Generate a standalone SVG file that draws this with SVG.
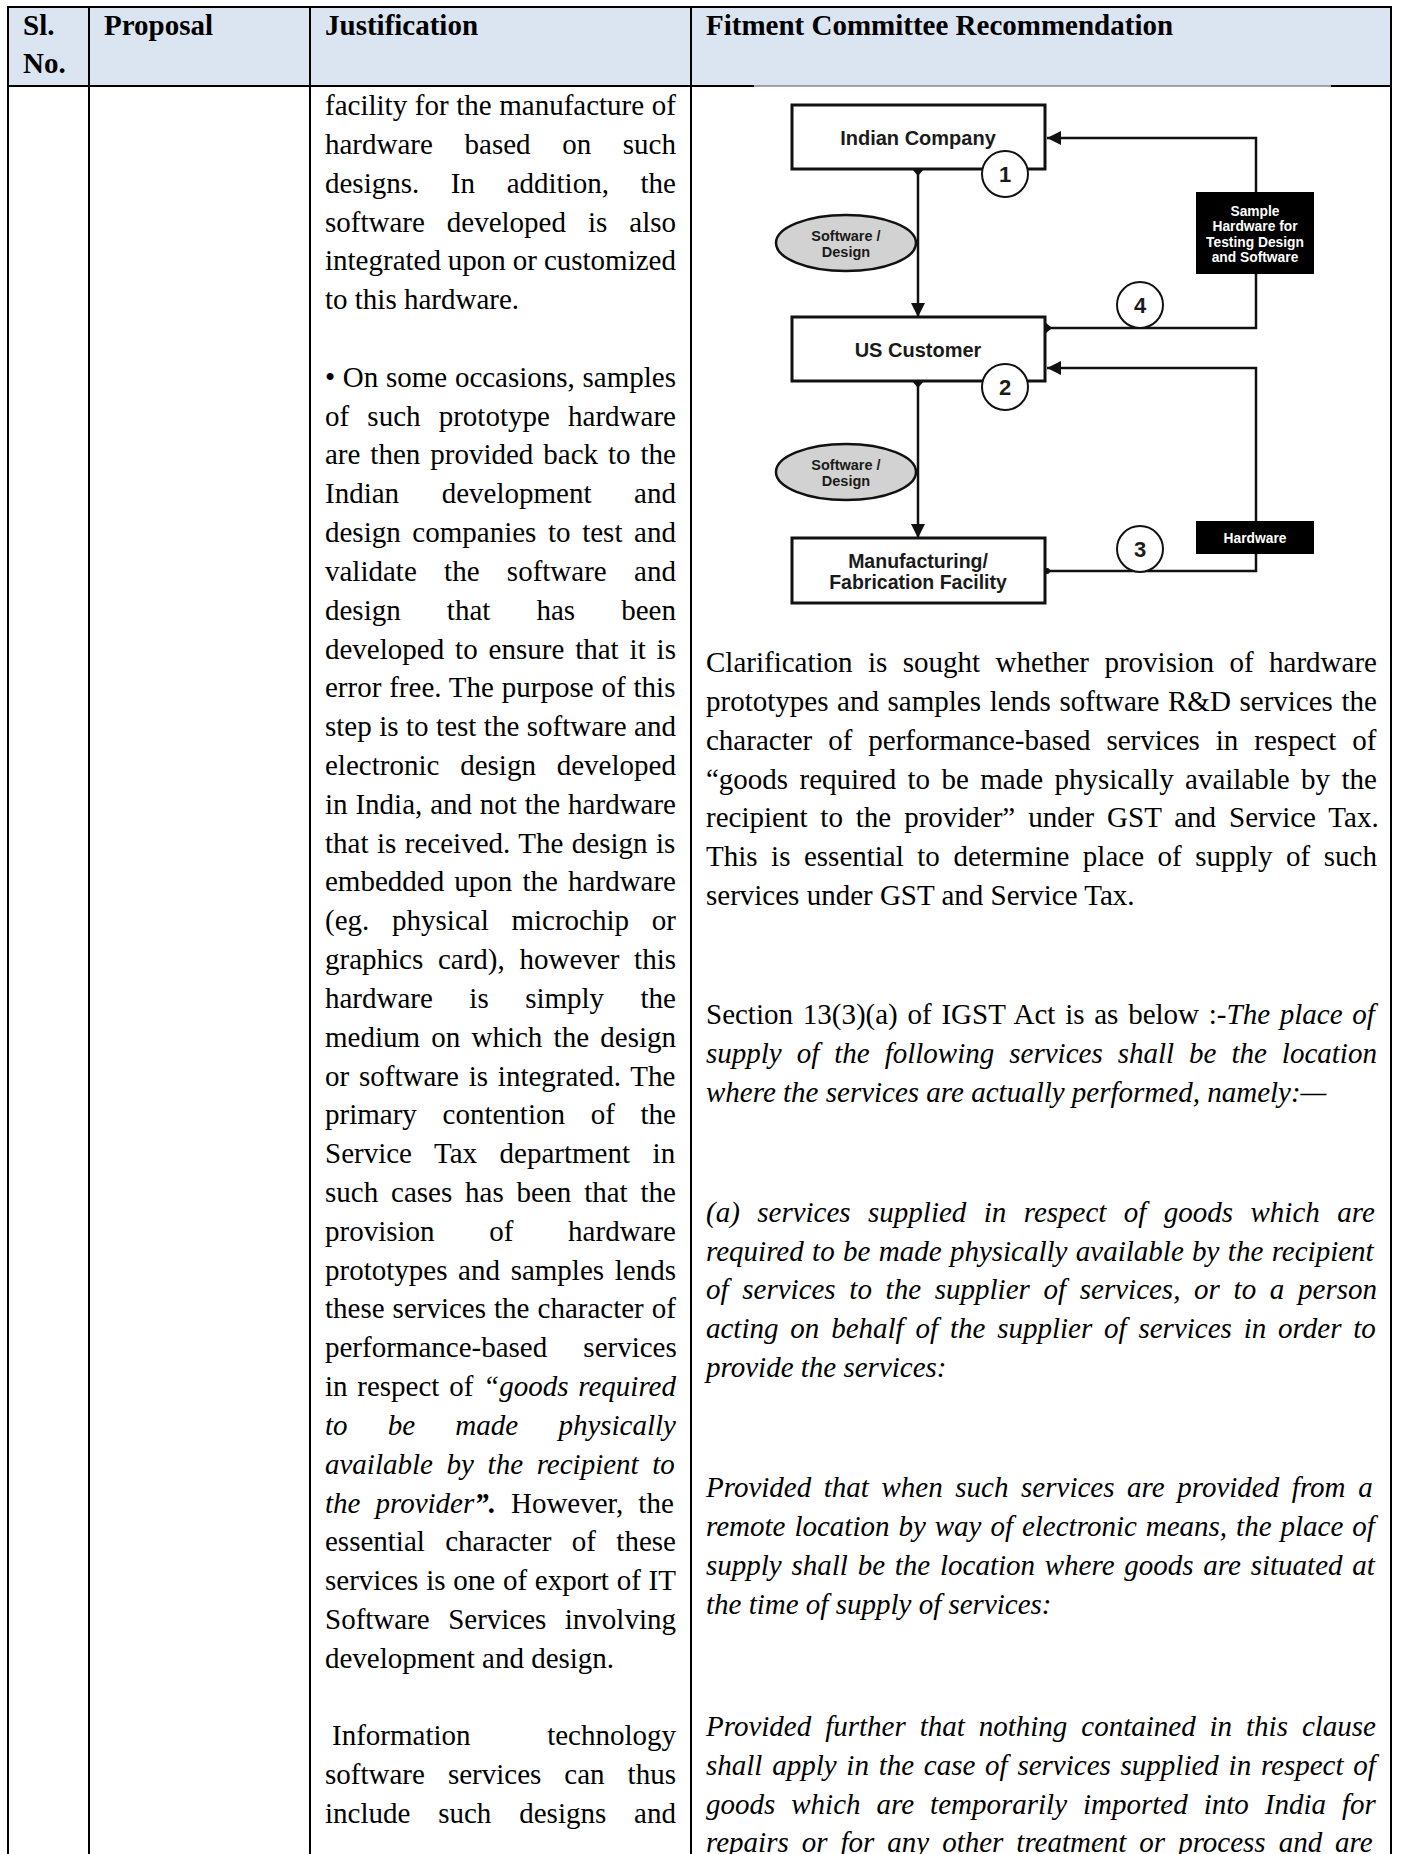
<svg xmlns="http://www.w3.org/2000/svg" width="1402" height="1854" viewBox="0 0 1402 1854">
<style>
.t{font-family:"Liberation Serif","Times New Roman",serif;font-size:29px;fill:#000}
.h{font-family:"Liberation Serif","Times New Roman",serif;font-size:29px;font-weight:bold;fill:#000}
.i{font-style:italic}
.grid{stroke:#000;stroke-width:2;fill:none}
.box{fill:#fff;stroke:#111;stroke-width:3}
.blk{fill:#000;stroke:none}
.ell{fill:#d2d2d2;stroke:#111;stroke-width:2.5}
.num{fill:#fff;stroke:#111;stroke-width:2}
.ln{stroke:#111;stroke-width:2.5;fill:none}
.dl{font-family:"Liberation Sans",Arial,sans-serif;font-weight:bold;fill:#1a1a1a;text-anchor:middle}
.wl{font-family:"Liberation Sans",Arial,sans-serif;font-weight:bold;fill:#fff;text-anchor:middle;font-size:13.8px}
</style>
<defs>
<marker id="arr" viewBox="0 0 14 14" refX="14" refY="7" markerWidth="14" markerHeight="14" orient="auto" markerUnits="userSpaceOnUse"><path d="M0,0 L14,7 L0,14 z" fill="#111"/></marker>
</defs>
<rect x="0" y="0" width="1402" height="1854" fill="#fff"/>
<g id="table">
<rect x="8" y="7" width="1383" height="79" fill="#dbe5f1"/>
<line class="grid" x1="7" y1="7" x2="1392" y2="7"/>
<line class="grid" x1="7" y1="86" x2="754" y2="86"/>
<line x1="754" y1="86" x2="1331" y2="86" stroke="#555" stroke-width="1"/>
<line class="grid" x1="1331" y1="86" x2="1392" y2="86"/>
<line class="grid" x1="8" y1="6" x2="8" y2="1854"/>
<line class="grid" x1="89" y1="6" x2="89" y2="1854"/>
<line class="grid" x1="310" y1="6" x2="310" y2="1854"/>
<line class="grid" x1="691" y1="6" x2="691" y2="1854"/>
<line class="grid" x1="1391" y1="6" x2="1391" y2="1854"/>
<text class="h" x="23" y="35">Sl.</text>
<text class="h" x="23" y="73">No.</text>
<text class="h" x="104" y="35">Proposal</text>
<text class="h" x="325" y="35">Justification</text>
<text class="h" x="706" y="35">Fitment Committee Recommendation</text>
</g>
<g id="justification">
<text class="t" x="325" y="115.0" style="word-spacing:0.37px">facility for the manufacture of</text>
<text class="t" x="325" y="153.8" style="word-spacing:24.39px">hardware based on such</text>
<text class="t" x="325" y="192.6" style="word-spacing:24.36px">designs. In addition, the</text>
<text class="t" x="325" y="231.5" style="word-spacing:14.72px">software developed is also</text>
<text class="t" x="325" y="270.3" style="word-spacing:-0.32px">integrated upon or customized</text>
<text class="t" x="325" y="309.1">to this hardware.</text>
<text class="t" x="325" y="386.7" style="word-spacing:0.44px">• On some occasions, samples</text>
<text class="t" x="325" y="425.6" style="word-spacing:10.95px">of such prototype hardware</text>
<text class="t" x="325" y="464.4" style="word-spacing:2.71px">are then provided back to the</text>
<text class="t" x="325" y="503.2" style="word-spacing:35.35px">Indian development and</text>
<text class="t" x="325" y="542.0" style="word-spacing:4.38px">design companies to test and</text>
<text class="t" x="325" y="580.8" style="word-spacing:20.08px">validate the software and</text>
<text class="t" x="325" y="619.7" style="word-spacing:38.88px">design that has been</text>
<text class="t" x="325" y="658.5" style="word-spacing:3.67px">developed to ensure that it is</text>
<text class="t" x="325" y="697.3" style="word-spacing:0.62px">error free. The purpose of this</text>
<text class="t" x="325" y="736.1" style="word-spacing:0.24px">step is to test the software and</text>
<text class="t" x="325" y="774.9" style="word-spacing:13.61px">electronic design developed</text>
<text class="t" x="325" y="813.8" style="word-spacing:0.62px">in India, and not the hardware</text>
<text class="t" x="325" y="852.6" style="word-spacing:1.25px">that is received. The design is</text>
<text class="t" x="325" y="891.4" style="word-spacing:2.92px">embedded upon the hardware</text>
<text class="t" x="325" y="930.2" style="word-spacing:15.52px">(eg. physical microchip or</text>
<text class="t" x="325" y="969.0" style="word-spacing:7.48px">graphics card), however this</text>
<text class="t" x="325" y="1007.9" style="word-spacing:29.21px">hardware is simply the</text>
<text class="t" x="325" y="1046.7" style="word-spacing:3.98px">medium on which the design</text>
<text class="t" x="325" y="1085.5" style="word-spacing:2.58px">or software is integrated. The</text>
<text class="t" x="325" y="1124.3" style="word-spacing:18.47px">primary contention of the</text>
<text class="t" x="325" y="1163.1" style="word-spacing:15.3px">Service Tax department in</text>
<text class="t" x="325" y="1202.0" style="word-spacing:5.61px">such cases has been that the</text>
<text class="t" x="325" y="1240.8" style="word-spacing:47.45px">provision of hardware</text>
<text class="t" x="325" y="1279.6" style="word-spacing:3.42px">prototypes and samples lends</text>
<text class="t" x="325" y="1318.4" style="word-spacing:0.78px">these services the character of</text>
<text class="t" x="325" y="1357.2" style="word-spacing:28.9px">performance-based services</text>
<text class="t" x="325" y="1396.1" style="word-spacing:2.5px">in respect of <tspan class="i">“goods required</tspan></text>
<text class="t i" x="325" y="1434.9" style="word-spacing:32.97px">to be made physically</text>
<text class="t i" x="325" y="1473.7" style="word-spacing:6.4px">available by the recipient to</text>
<text class="t" x="325" y="1512.5" style="word-spacing:7.75px"><tspan class="i">the provider</tspan><tspan class="i" font-weight="bold">”.</tspan> However, the</text>
<text class="t" x="325" y="1551.3" style="word-spacing:13.12px">essential character of these</text>
<text class="t" x="325" y="1590.2" style="word-spacing:0.51px">services is one of export of IT</text>
<text class="t" x="325" y="1629.0" style="word-spacing:11.19px">Software Services involving</text>
<text class="t" x="325" y="1667.8">development and design.</text>
<text class="t" x="332" y="1745.4">Information</text>
<text class="t" x="676" y="1745.4" text-anchor="end">technology</text>
<text class="t" x="325" y="1784.3" style="word-spacing:15.79px">software services can thus</text>
<text class="t" x="325" y="1823.1" style="word-spacing:20.61px">include such designs and</text>
</g>
<g id="recommendation">
<text class="t" x="706" y="672.0" style="word-spacing:8.2px">Clarification is sought whether provision of hardware</text>
<text class="t" x="706" y="710.8" style="word-spacing:1.39px">prototypes and samples lends software R&amp;D services the</text>
<text class="t" x="706" y="749.6" style="word-spacing:8.7px">character of performance-based services in respect of</text>
<text class="t" x="706" y="788.5" style="word-spacing:4.14px">“goods required to be made physically available by the</text>
<text class="t" x="706" y="827.3" style="word-spacing:5.65px">recipient to the provider” under GST and Service Tax.</text>
<text class="t" x="706" y="866.1" style="word-spacing:6.27px">This is essential to determine place of supply of such</text>
<text class="t" x="706" y="904.9">services under GST and Service Tax.</text>
<text class="t" x="706" y="1024.2" style="word-spacing:2.51px">Section 13(3)(a) of IGST Act is as below :-<tspan class="i">The place of</tspan></text>
<text class="t i" x="706" y="1063.0" style="word-spacing:7.75px">supply of the following services shall be the location</text>
<text class="t i" x="706" y="1101.9">where the services are actually performed, namely:—</text>
<text class="t i" x="706" y="1221.7" style="word-spacing:10.17px">(a) services supplied in respect of goods which are</text>
<text class="t i" x="706" y="1260.5" style="word-spacing:1.11px">required to be made physically available by the recipient</text>
<text class="t i" x="706" y="1299.3" style="word-spacing:6.45px">of services to the supplier of services, or to a person</text>
<text class="t i" x="706" y="1338.1" style="word-spacing:4.59px">acting on behalf of the supplier of services in order to</text>
<text class="t i" x="706" y="1377.0">provide the services:</text>
<text class="t i" x="706" y="1497.0" style="word-spacing:5.34px">Provided that when such services are provided from a</text>
<text class="t i" x="706" y="1535.9" style="word-spacing:1.71px">remote location by way of electronic means, the place of</text>
<text class="t i" x="706" y="1574.7" style="word-spacing:2.51px">supply shall be the location where goods are situated at</text>
<text class="t i" x="706" y="1613.5">the time of supply of services:</text>
<text class="t i" x="706" y="1736.0" style="word-spacing:6.69px">Provided further that nothing contained in this clause</text>
<text class="t i" x="706" y="1774.8" style="word-spacing:2.5px">shall apply in the case of services supplied in respect of</text>
<text class="t i" x="706" y="1813.6" style="word-spacing:8.74px">goods which are temporarily imported into India for</text>
<text class="t i" x="706" y="1851.5" style="word-spacing:5.73px">repairs or for any other treatment or process and are</text>
</g>
<g id="connectors">
<line class="ln" x1="918" y1="169" x2="918" y2="317" marker-end="url(#arr)"/>
<line class="ln" x1="918" y1="381" x2="918" y2="538" marker-end="url(#arr)"/>
<path class="ln" d="M1256,192 V138 H1047" marker-end="url(#arr)"/>
<path class="ln" d="M1256,274 V328 H1046"/>
<path class="ln" d="M1256,521 V368 H1047" marker-end="url(#arr)"/>
<path class="ln" d="M1256,554 V571 H1046"/>
<polygon points="912,169 924,169 918,176" fill="#111"/>
<polygon points="912,381 924,381 918,388" fill="#111"/>
<polygon points="1045,322 1045,334 1052,328" fill="#111"/>
<circle cx="1047" cy="571" r="3" fill="#111"/>
</g>
<g id="node-indian-company">
<rect class="box" x="792" y="105" width="253" height="64"/>
<text class="dl" x="918" y="145" font-size="20">Indian Company</text>
</g>
<g id="node-us-customer">
<rect class="box" x="792" y="317" width="253" height="64"/>
<text class="dl" x="918" y="357" font-size="20">US Customer</text>
</g>
<g id="node-manufacturing">
<rect class="box" x="792" y="538" width="253" height="65"/>
<text class="dl" x="918" y="568" font-size="19.5">Manufacturing/</text>
<text class="dl" x="918" y="588.5" font-size="19.5">Fabrication Facility</text>
</g>
<g id="node-software-design-1">
<ellipse class="ell" cx="846" cy="243" rx="70" ry="28"/>
<text class="dl" x="846" y="241" font-size="14.5" fill="#333">Software /</text>
<text class="dl" x="846" y="257" font-size="14.5" fill="#333">Design</text>
</g>
<g id="node-software-design-2">
<ellipse class="ell" cx="846" cy="472" rx="70" ry="28"/>
<text class="dl" x="846" y="470" font-size="14.5" fill="#333">Software /</text>
<text class="dl" x="846" y="486" font-size="14.5" fill="#333">Design</text>
</g>
<g id="node-sample-hardware">
<rect class="blk" x="1196" y="192" width="118" height="82"/>
<text class="wl" x="1255" y="215.5">Sample</text>
<text class="wl" x="1255" y="231">Hardware for</text>
<text class="wl" x="1255" y="246.5">Testing Design</text>
<text class="wl" x="1255" y="262">and Software</text>
</g>
<g id="node-hardware">
<rect class="blk" x="1196" y="521" width="118" height="33"/>
<text class="wl" x="1255" y="542.5" font-size="14">Hardware</text>
</g>
<g id="node-step-1">
<circle class="num" cx="1005" cy="174" r="23"/>
<text class="dl" x="1005" y="182" font-size="22">1</text>
</g>
<g id="node-step-2">
<circle class="num" cx="1005" cy="387" r="23"/>
<text class="dl" x="1005" y="395" font-size="22">2</text>
</g>
<g id="node-step-4">
<circle class="num" cx="1140" cy="305" r="23"/>
<text class="dl" x="1140" y="313" font-size="22">4</text>
</g>
<g id="node-step-3">
<circle class="num" cx="1140" cy="549" r="23"/>
<text class="dl" x="1140" y="557" font-size="22">3</text>
</g>
</svg>
